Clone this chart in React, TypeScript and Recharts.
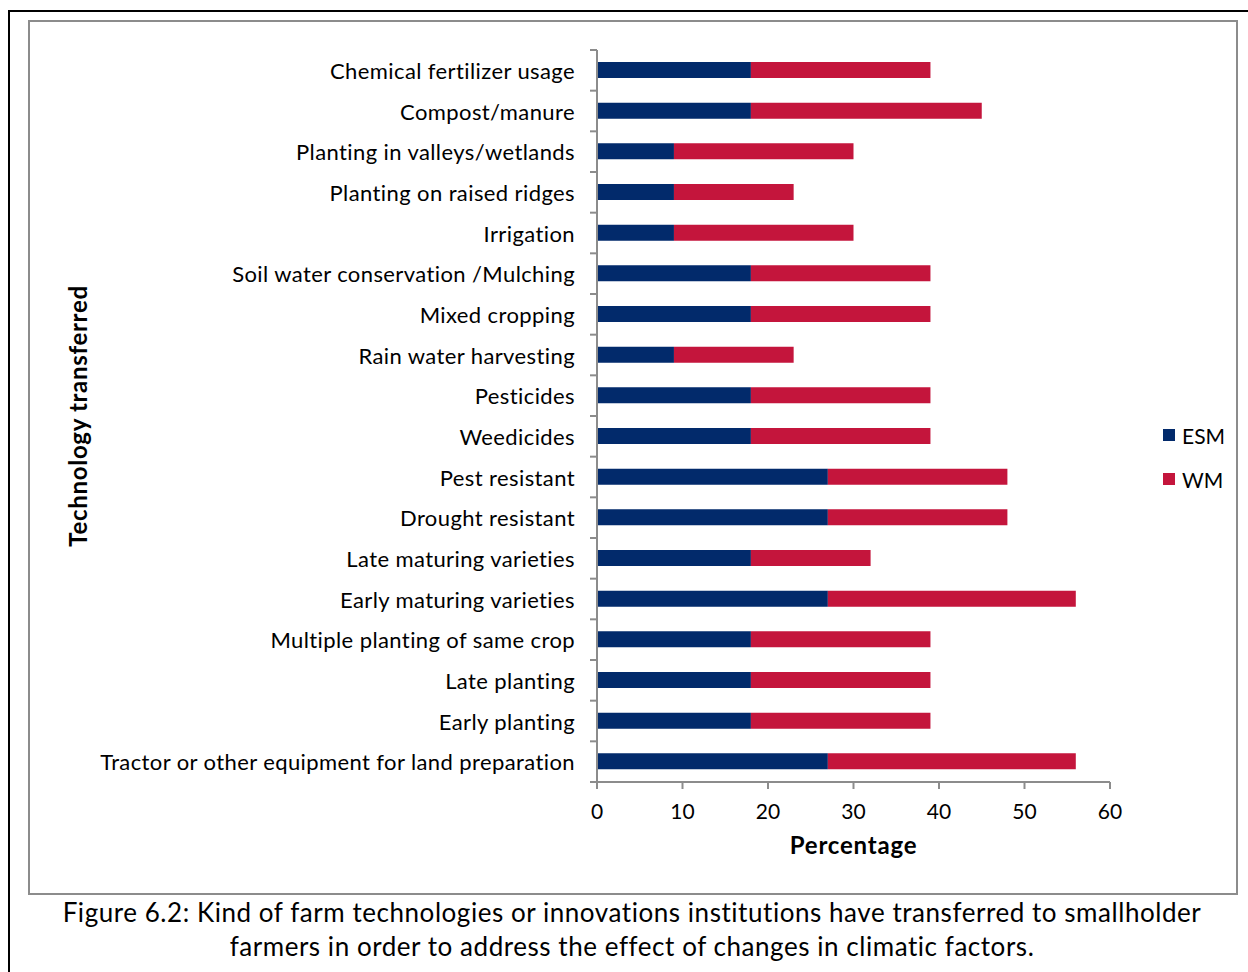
import React from 'react';
import { BarChart, Bar, XAxis, YAxis, Legend } from 'recharts';

// Technologies, listed top to bottom
const technologies = [
  'Chemical fertilizer usage',
  'Compost/manure',
  'Planting in valleys/wetlands',
  'Planting on raised ridges ',
  'Irrigation ',
  'Soil water conservation /Mulching',
  'Mixed cropping',
  'Rain water harvesting',
  'Pesticides',
  'Weedicides',
  'Pest resistant',
  'Drought resistant',
  'Late maturing varieties',
  'Early maturing varieties',
  'Multiple planting of same crop',
  'Late planting',
  'Early planting',
  'Tractor or other equipment for land preparation',
];

// Percentages per group
const esmValues = [18, 18, 9, 9, 9, 18, 18, 9, 18, 18, 27, 27, 18, 27, 18, 18, 18, 27];
const wmValues = [21, 27, 21, 14, 21, 21, 21, 14, 21, 21, 21, 21, 14, 29, 21, 21, 21, 29];

const xTicks = [0, 10, 20, 30, 40, 50, 60];

const seriesNames = ['ESM', 'WM'];
const seriesColors = ['#022a6b', '#c4153c'];

const data = technologies.map((name, i) => ({
  name,
  ESM: esmValues[i],
  WM: wmValues[i],
}));

const FONT = "'Lato', 'Open Sans', sans-serif";
const AXIS = '#8c8c8c';

const CategoryTick = (props: any) => {
  const { x, y, payload, index } = props;
  const half = payload && typeof payload.offset === 'number' ? payload.offset : 20.33;
  const axisX = x + 22;
  const isLast = index === technologies.length - 1;
  return (
    <g>
      <line x1={axisX - 7} x2={axisX} y1={y - half} y2={y - half} stroke={AXIS} strokeWidth={2} />
      {isLast && (
        <line x1={axisX - 7} x2={axisX} y1={y + half} y2={y + half} stroke={AXIS} strokeWidth={2} />
      )}
      <text
        x={x}
        y={y}
        textAnchor="end"
        dominantBaseline="central"
        fontFamily={FONT}
        fontSize={22}
        letterSpacing={0.4}
        fill="#000"
      >
        {payload.value}
      </text>
    </g>
  );
};

const YTitle = (props: any) => {
  const vb = props.viewBox || {};
  const cy = vb.y + vb.height / 2;
  const cx = 77;
  return (
    <text
      x={cx}
      y={cy}
      transform={`rotate(-90, ${cx}, ${cy})`}
      textAnchor="middle"
      dominantBaseline="central"
      fontFamily={FONT}
      fontWeight="bold"
      fontSize={24}
      letterSpacing={0.7}
      fill="#000"
    >
      Technology transferred
    </text>
  );
};

const XTitle = (props: any) => {
  const vb = props.viewBox || {};
  return (
    <text
      x={vb.x + vb.width / 2}
      y={vb.y + 72}
      textAnchor="middle"
      fontFamily={FONT}
      fontWeight="bold"
      fontSize={24}
      letterSpacing={0.8}
      fill="#000"
    >
      Percentage
    </text>
  );
};

const LegendBox = () => (
  <div style={{ fontFamily: FONT, fontSize: 21, color: '#000' }}>
    {seriesNames.map((n, i) => (
      <div key={n} style={{ display: 'flex', alignItems: 'center', height: 44 }}>
        <span
          style={{
            display: 'inline-block',
            width: 12,
            height: 12,
            background: seriesColors[i],
            marginRight: 7,
          }}
        />
        <span>{n}</span>
      </div>
    ))}
  </div>
);

export default function App() {
  return (
    <div
      style={{
        position: 'absolute',
        left: 0,
        top: 0,
        width: 1248,
        height: 972,
        background: '#fff',
        overflow: 'hidden',
        fontFamily: FONT,
      }}
    >
      <div
        style={{
          position: 'absolute',
          left: 8,
          top: 10,
          width: 1270,
          height: 990,
          border: '2px solid #000',
          boxSizing: 'border-box',
        }}
      />
      <div
        style={{
          position: 'absolute',
          left: 28,
          top: 20,
          width: 1210,
          height: 875,
          border: '2px solid #8c8c8c',
          boxSizing: 'border-box',
        }}
      />
      <div style={{ position: 'absolute', left: 0, top: 0 }}>
        <BarChart
          width={1248}
          height={900}
          data={data}
          layout="vertical"
          margin={{ top: 50, right: 138, left: 0, bottom: 38 }}
        >
          <XAxis
            type="number"
            domain={[0, 60]}
            ticks={xTicks}
            interval={0}
            height={80}
            tickSize={7}
            tickMargin={15}
            axisLine={{ stroke: AXIS, strokeWidth: 2 }}
            tickLine={{ stroke: AXIS, strokeWidth: 2 }}
            tick={{ fontFamily: FONT, fontSize: 21, fill: '#000' }}
            label={<XTitle />}
          />
          <YAxis
            type="category"
            dataKey="name"
            width={597}
            interval={0}
            tickSize={7}
            tickMargin={15}
            tickLine={false}
            axisLine={{ stroke: AXIS, strokeWidth: 2 }}
            tick={<CategoryTick />}
            label={<YTitle />}
          />
          <Legend
            layout="vertical"
            align="center"
            verticalAlign="middle"
            content={<LegendBox />}
            wrapperStyle={{ left: 1163, top: 413, width: 80 }}
          />
          <Bar dataKey="ESM" stackId="s" fill={seriesColors[0]} barSize={16} isAnimationActive={false} />
          <Bar dataKey="WM" stackId="s" fill={seriesColors[1]} barSize={16} isAnimationActive={false} />
        </BarChart>
      </div>
      <div
        style={{
          position: 'absolute',
          left: 0,
          top: 895,
          width: 1264,
          textAlign: 'center',
          fontSize: 26,
          letterSpacing: 0.55,
          lineHeight: '34px',
          color: '#000',
        }}
      >
        <div>Figure 6.2: Kind of farm technologies or innovations institutions have transferred to smallholder</div>
        <div>farmers in order to address the effect of changes in climatic factors.</div>
      </div>
    </div>
  );
}
